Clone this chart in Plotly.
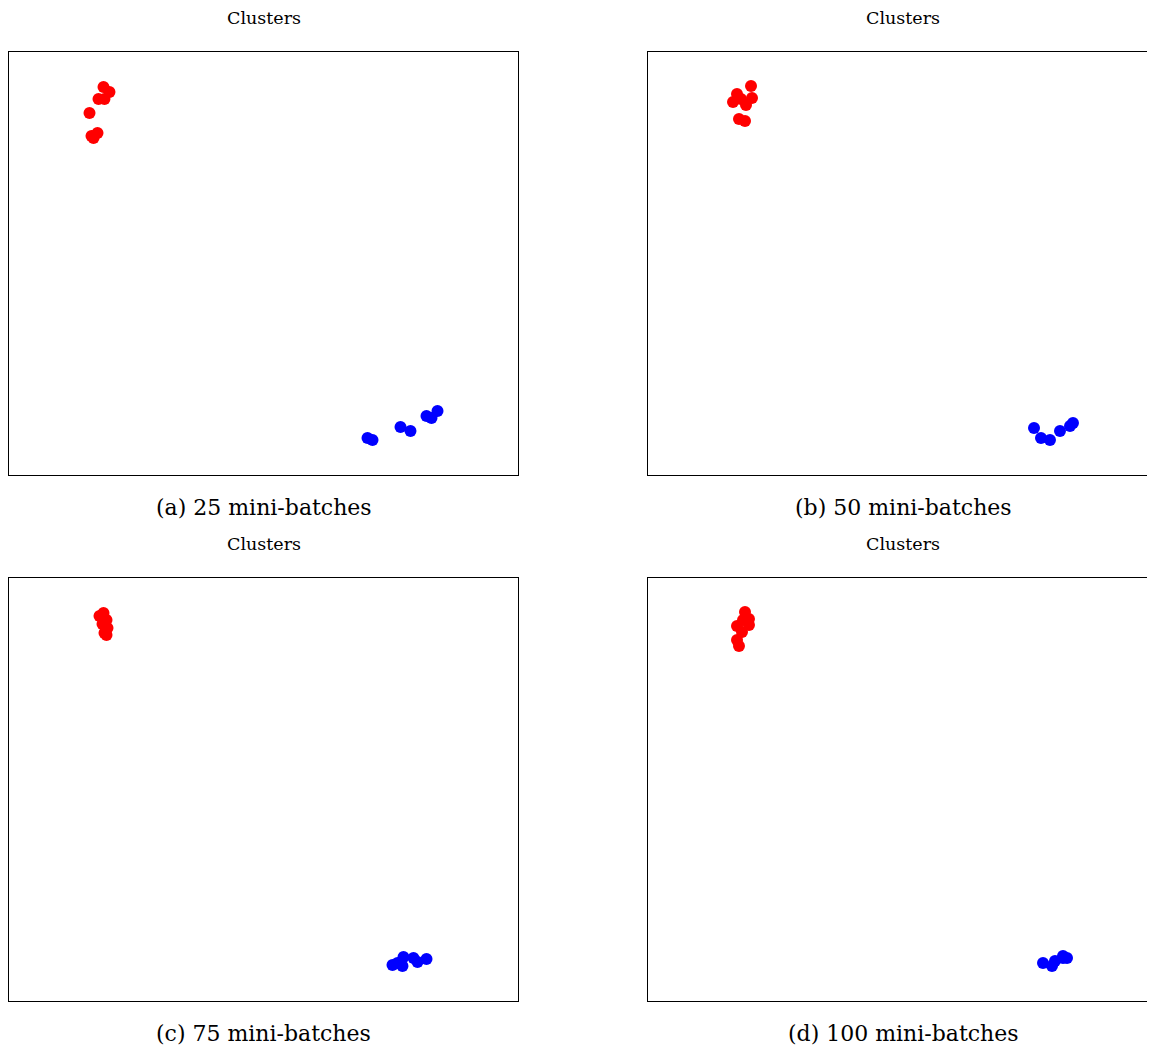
import plotly.graph_objects as go

# Data (arbitrary embedding units; axes span 0..10)
panel_captions = ["(a) 25 mini-batches", "(b) 50 mini-batches", "(c) 75 mini-batches", "(d) 100 mini-batches"]
panel_titles = ["Clusters", "Clusters", "Clusters", "Clusters"]

a_red_x = [1.863, 1.980, 1.765, 1.882, 1.588, 1.627, 1.745, 1.667]
a_red_y = [9.173, 9.054, 8.889, 8.889, 8.558, 8.014, 8.085, 7.967]
a_blue_x = [7.039, 7.137, 7.686, 7.882, 8.196, 8.294, 8.412]
a_blue_y = [0.875, 0.827, 1.135, 1.040, 1.395, 1.348, 1.513]

b_red_x = [2.020, 1.745, 1.667, 1.824, 2.039, 1.922, 1.784, 1.902]
b_red_y = [9.196, 9.007, 8.818, 8.889, 8.913, 8.747, 8.416, 8.369]
b_blue_x = [7.569, 7.706, 7.882, 8.078, 8.275, 8.333]
b_blue_y = [1.111, 0.875, 0.827, 1.040, 1.158, 1.229]

c_red_x = [1.863, 1.784, 1.922, 1.843, 1.941, 1.922, 1.882]
c_red_y = [9.173, 9.102, 9.007, 8.913, 8.818, 8.652, 8.700]
c_blue_x = [7.529, 7.627, 7.725, 7.745, 7.941, 8.020, 8.196]
c_blue_y = [0.851, 0.898, 0.827, 1.040, 1.017, 0.922, 0.993]

d_red_x = [1.902, 1.980, 1.863, 1.745, 1.980, 1.843, 1.745, 1.784]
d_red_y = [9.196, 9.031, 9.007, 8.865, 8.889, 8.723, 8.534, 8.392]
d_blue_x = [7.745, 7.922, 7.980, 8.137, 8.216, 8.137]
d_blue_y = [0.898, 0.827, 0.946, 1.064, 1.017, 1.017]

# page body adds an 8px margin, so the figure is drawn offset by 8px
W, H = 1147, 1042
panels = [
    (a_red_x, a_red_y, a_blue_x, a_blue_y),
    (b_red_x, b_red_y, b_blue_x, b_blue_y),
    (c_red_x, c_red_y, c_blue_x, c_blue_y),
    (d_red_x, d_red_y, d_blue_x, d_blue_y),
]
# panel pixel boxes (figure coords): left, top, visible right
boxes = [(0.5, 44, 510.0), (640, 44, 1147), (0.5, 570, 510.0), (640, 570, 1147)]
title_y = [10, 10, 536, 536]
PW, PH = 510, 423

fig = go.Figure()
layout = dict(width=W, height=H, margin=dict(l=0, r=0, t=0, b=0),
              paper_bgcolor="white", plot_bgcolor="white", showlegend=False,
              font=dict(family="DejaVu Serif", color="black"))
annotations = []
for i, ((rx, ry, bx, by), (left, top, right)) in enumerate(zip(panels, boxes)):
    n = "" if i == 0 else str(i + 1)
    xa, ya = "x" + n, "y" + n
    fig.add_trace(go.Scatter(x=rx, y=ry, mode="markers", xaxis=xa, yaxis=ya,
                             marker=dict(color="#ff0000", size=12, line=dict(width=0))))
    fig.add_trace(go.Scatter(x=bx, y=by, mode="markers", xaxis=xa, yaxis=ya,
                             marker=dict(color="#0000ff", size=12, line=dict(width=0))))
    xr = 10.0 * (right - left) / PW
    cut = right - left < PW - 1
    layout["xaxis" + n] = dict(domain=[left / W, right / W], range=[0, xr], anchor=ya,
                               showgrid=False, zeroline=False, showticklabels=False, ticks="",
                               showline=True, mirror=True, linecolor="black", linewidth=1)
    layout["yaxis" + n] = dict(domain=[1 - (top + PH) / H, 1 - top / H], range=[0, 10], anchor=xa,
                               showgrid=False, zeroline=False, showticklabels=False, ticks="",
                               showline=True, mirror=(not cut), linecolor="black", linewidth=1)
    cx = (left + PW / 2) / W
    annotations.append(dict(text=panel_titles[i], x=cx, y=1 - title_y[i] / H, xref="paper", yref="paper",
                            showarrow=False, xanchor="center", yanchor="middle",
                            font=dict(size=17.5, family="DejaVu Serif", color="black")))
    annotations.append(dict(text=panel_captions[i], x=cx, y=1 - (top + PH + 32) / H, xref="paper", yref="paper",
                            showarrow=False, xanchor="center", yanchor="middle",
                            font=dict(size=22, family="DejaVu Serif", color="black")))
layout["annotations"] = annotations
fig.update_layout(**layout)
fig.write_html("out.html")
